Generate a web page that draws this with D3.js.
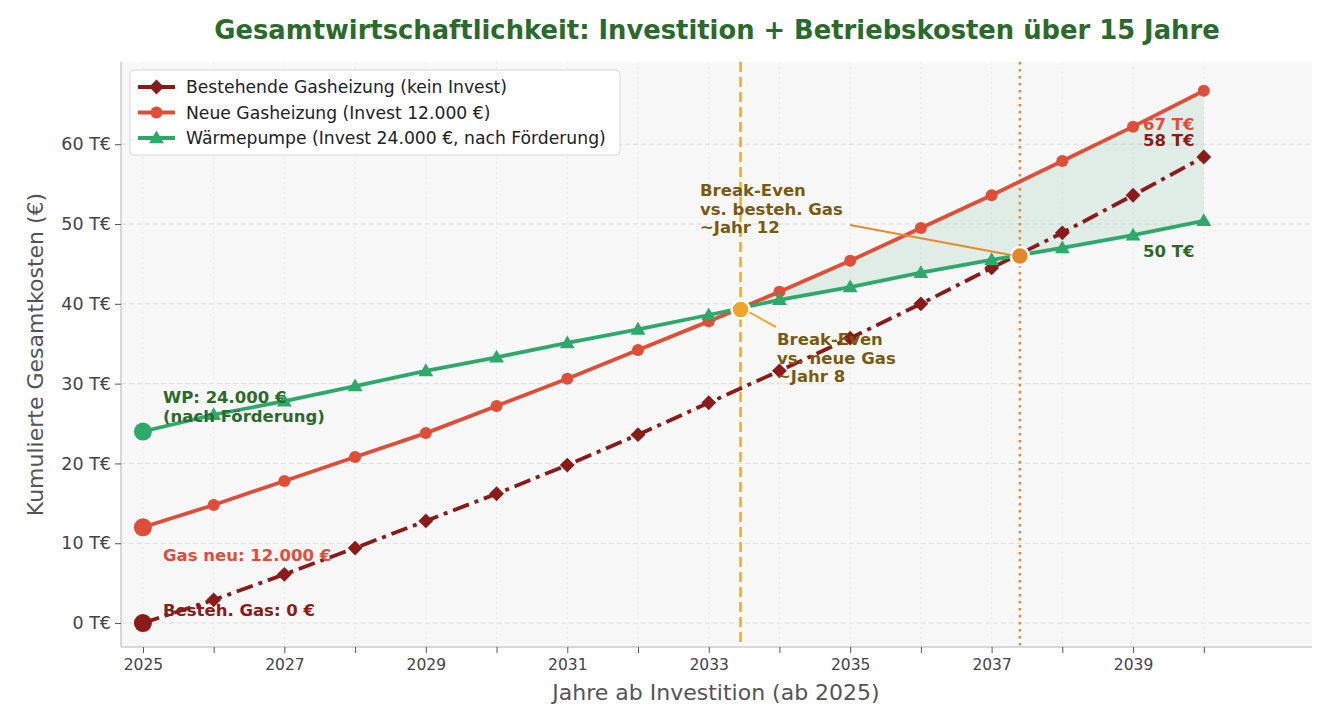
<!DOCTYPE html>
<html>
  <head>
    <meta charset="utf-8">
    <title>Gesamtwirtschaftlichkeit</title>
    <script src="https://d3js.org/d3.v7.min.js"></script>
    <style>
      body { margin: 0; background: #fff; font-family: "DejaVu Sans", sans-serif; }
    </style>
  </head>
  <body>
    <div id="graph"></div>
  </body>

  <script>
    // Data (values in T€)
    const years = [2025, 2026, 2027, 2028, 2029, 2030, 2031, 2032, 2033, 2034, 2035, 2036, 2037, 2038, 2039, 2040];
    const gas_old = [0, 2.9, 6.1, 9.4, 12.8, 16.2, 19.8, 23.6, 27.6, 31.6, 35.7, 40.0, 44.5, 48.9, 53.6, 58.4];
    const gas_new = [12, 14.8, 17.8, 20.8, 23.8, 27.2, 30.6, 34.2, 37.8, 41.5, 45.4, 49.5, 53.6, 57.9, 62.2, 66.7];
    const heat_pump = [24, 26.1, 27.8, 29.7, 31.6, 33.3, 35.1, 36.8, 38.6, 40.5, 42.1, 43.9, 45.5, 47.0, 48.6, 50.4];
    const break_even = [{year: 2033.45, value: 39.3}, {year: 2037.4, value: 46.0}];
    const y_ticks = [0, 10, 20, 30, 40, 50, 60];
    const x_labels = [2025, 2027, 2029, 2031, 2033, 2035, 2037, 2039];
    const series_names = [
      "Bestehende Gasheizung (kein Invest)",
      "Neue Gasheizung (Invest 12.000 €)",
      "Wärmepumpe (Invest 24.000 €, nach Förderung)"
    ];

    const width = 1326;
    const height = 712;
    const margin = ({top: 62, right: 14, bottom: 65, left: 121});

    const c_old = "#8b1a1a";
    const c_new = "#e04e39";
    const c_wp = "#2ea86b";
    const c_text_green = "#2b6a2b";
    const c_brown = "#7a5a10";
    const note_size = "16.5px";

    let svg = d3.select("#graph").append("svg")
      .attr("width", width)
      .attr("height", height)
      .style("font-family", "'DejaVu Sans', sans-serif");

    let x = d3.scaleLinear()
      .domain([2024.69, 2041.53])
      .range([margin.left, width - margin.right]);
    let y = d3.scaleLinear()
      .domain([-3.0, 70.3])
      .range([height - margin.bottom, margin.top]);

    // plot background
    svg.append("rect")
      .attr("x", margin.left).attr("y", margin.top)
      .attr("width", width - margin.left - margin.right)
      .attr("height", height - margin.top - margin.bottom)
      .attr("fill", "#f8f8f8");

    // grid
    svg.append("g").selectAll("line").data(y_ticks).enter().append("line")
      .attr("x1", margin.left).attr("x2", width - margin.right)
      .attr("y1", d => y(d)).attr("y2", d => y(d))
      .attr("stroke", "#dedede").attr("stroke-width", 1).attr("stroke-dasharray", "5,3");
    svg.append("g").selectAll("line").data(years).enter().append("line")
      .attr("x1", d => x(d)).attr("x2", d => x(d))
      .attr("y1", margin.top).attr("y2", height - margin.bottom)
      .attr("stroke", "#ececec").attr("stroke-width", 1).attr("stroke-dasharray", "2,3");

    // axes
    let x_axis = d3.axisBottom(x).tickValues(years)
      .tickSize(6).tickPadding(6)
      .tickFormat(d => x_labels.includes(d) ? d : "");
    let gx = svg.append("g")
      .attr("transform", `translate(0, ${height - margin.bottom})`)
      .call(x_axis);
    let y_axis = d3.axisLeft(y).tickValues(y_ticks)
      .tickSize(6).tickPadding(4)
      .tickFormat(d => d + " T€");
    let gy = svg.append("g")
      .attr("transform", `translate(${margin.left}, 0)`)
      .call(y_axis);
    [gx, gy].forEach(g => {
      g.select(".domain").attr("stroke", "#cccccc").attr("stroke-width", 1.5);
      g.selectAll(".tick line").attr("stroke", "#555");
      g.selectAll(".tick text").attr("fill", "#444")
        .style("font-family", "'DejaVu Sans', sans-serif");
    });
    gx.selectAll(".tick text").style("font-size", "15.5px");
    gy.selectAll(".tick text").style("font-size", "17.5px");
    gx.select(".domain").attr("d", `M${margin.left},0H${width - margin.right}`);
    gy.select(".domain").attr("d", `M0,${margin.top}V${height - margin.bottom}`);

    // axis titles
    svg.append("text")
      .attr("x", 716)
      .attr("y", 700)
      .attr("text-anchor", "middle")
      .attr("fill", "#555").style("font-size", "22px")
      .text("Jahre ab Investition (ab 2025)");
    svg.append("text")
      .attr("transform", `translate(43, ${(margin.top + height - margin.bottom) / 2}) rotate(-90)`)
      .attr("text-anchor", "middle")
      .attr("fill", "#555").style("font-size", "22px")
      .text("Kumulierte Gesamtkosten (€)");

    // title
    svg.append("text")
      .attr("x", 717).attr("y", 39)
      .attr("text-anchor", "middle")
      .attr("fill", c_text_green)
      .style("font-size", "25.8px").style("font-weight", "bold")
      .text("Gesamtwirtschaftlichkeit: Investition + Betriebskosten über 15 Jahre");

    // shaded area between new gas and heat pump where gas is more expensive
    let fill_pts = [];
    for (let i = 0; i < years.length; i++) {
      const d_now = gas_new[i] - heat_pump[i];
      if (i > 0) {
        const d_prev = gas_new[i - 1] - heat_pump[i - 1];
        if (d_prev <= 0 && d_now > 0) {
          const t = -d_prev / (d_now - d_prev);
          const yr = years[i - 1] + t;
          const v = heat_pump[i - 1] + t * (heat_pump[i] - heat_pump[i - 1]);
          fill_pts.push({year: yr, top: v, bottom: v});
        }
      }
      if (d_now > 0) fill_pts.push({year: years[i], top: gas_new[i], bottom: heat_pump[i]});
    }
    svg.append("path")
      .datum(fill_pts)
      .attr("fill", "#2ea86b").attr("fill-opacity", 0.12)
      .attr("d", d3.area().x(d => x(d.year)).y0(d => y(d.bottom)).y1(d => y(d.top)));

    // break-even vertical lines
    svg.append("line")
      .attr("x1", x(break_even[0].year)).attr("x2", x(break_even[0].year))
      .attr("y1", margin.top).attr("y2", height - margin.bottom)
      .attr("stroke", "#f0aa2c").attr("stroke-width", 2.5).attr("stroke-dasharray", "10,5");
    svg.append("line")
      .attr("x1", x(break_even[1].year)).attr("x2", x(break_even[1].year))
      .attr("y1", margin.top).attr("y2", height - margin.bottom)
      .attr("stroke", "#e08a34").attr("stroke-width", 2.5).attr("stroke-dasharray", "2.5,4.5");

    const line = d3.line().x((d, i) => x(years[i])).y(d => y(d));

    // existing gas heating
    svg.append("path").datum(gas_old)
      .attr("fill", "none").attr("stroke", c_old).attr("stroke-width", 3.8)
      .attr("stroke-dasharray", "17,6,4,6")
      .attr("d", line);
    svg.append("g").selectAll("path").data(gas_old.slice(1)).enter().append("path")
      .attr("transform", (d, i) => `translate(${x(years[i + 1])}, ${y(d)})`)
      .attr("d", d3.symbol(d3.symbolDiamond2, 140))
      .attr("fill", c_old);

    // new gas heating
    svg.append("path").datum(gas_new)
      .attr("fill", "none").attr("stroke", c_new).attr("stroke-width", 3.8)
      .attr("d", line);
    svg.append("g").selectAll("circle").data(gas_new.slice(1)).enter().append("circle")
      .attr("cx", (d, i) => x(years[i + 1])).attr("cy", d => y(d))
      .attr("r", 6).attr("fill", c_new);

    // heat pump
    svg.append("path").datum(heat_pump)
      .attr("fill", "none").attr("stroke", c_wp).attr("stroke-width", 3.8)
      .attr("d", line);
    svg.append("g").selectAll("path").data(heat_pump.slice(1)).enter().append("path")
      .attr("transform", (d, i) => `translate(${x(years[i + 1])}, ${y(d) + 1})`)
      .attr("d", d3.symbol(d3.symbolTriangle, 95))
      .attr("fill", c_wp);

    // start points
    [[gas_old[0], c_old], [gas_new[0], c_new], [heat_pump[0], c_wp]].forEach(p => {
      svg.append("circle")
        .attr("cx", x(years[0])).attr("cy", y(p[0]))
        .attr("r", 9).attr("fill", p[1]);
    });

    // break-even points
    svg.append("circle")
      .attr("cx", x(break_even[0].year)).attr("cy", y(break_even[0].value))
      .attr("r", 9).attr("fill", "#f0a52c").attr("stroke", "#fff").attr("stroke-width", 2.5);
    svg.append("circle")
      .attr("cx", x(break_even[1].year)).attr("cy", y(break_even[1].value))
      .attr("r", 9).attr("fill", "#e4872a").attr("stroke", "#fff").attr("stroke-width", 2.5);

    // annotation arrows
    svg.append("line")
      .attr("x1", 850).attr("y1", 225)
      .attr("x2", x(break_even[1].year) - 9).attr("y2", y(break_even[1].value) - 1)
      .attr("stroke", "#e8892a").attr("stroke-width", 2);
    svg.append("line")
      .attr("x1", 776).attr("y1", 327)
      .attr("x2", x(break_even[0].year) + 9).attr("y2", y(break_even[0].value) + 3)
      .attr("stroke", "#f0aa2c").attr("stroke-width", 2);

    function multiline(x0, y0, lines, color, dy) {
      let t = svg.append("text")
        .attr("x", x0).attr("y", y0)
        .attr("fill", color)
        .style("font-size", note_size).style("font-weight", "bold");
      lines.forEach((s, i) => {
        t.append("tspan").attr("x", x0).attr("dy", i === 0 ? 0 : dy).text(s);
      });
    }

    multiline(700, 196, ["Break-Even", "vs. besteh. Gas", "~Jahr 12"], c_brown, 18.5);
    multiline(777, 345, ["Break-Even", "vs. neue Gas", "~Jahr 8"], c_brown, 18.5);
    multiline(163, 403, ["WP: 24.000 €", "(nach Förderung)"], c_text_green, 18.5);
    multiline(163, 561, ["Gas neu: 12.000 €"], c_new, 0);
    multiline(163, 616, ["Besteh. Gas: 0 €"], c_old, 0);

    // end value labels
    multiline(1143, 130, [Math.round(gas_new[15]) + " T€"], c_new, 0);
    multiline(1143, 146, [Math.round(gas_old[15]) + " T€"], c_old, 0);
    multiline(1143, 257, [Math.round(heat_pump[15]) + " T€"], c_text_green, 0);

    // legend
    let legend = svg.append("g").attr("transform", "translate(130, 70)");
    legend.append("rect")
      .attr("width", 490).attr("height", 85).attr("rx", 4)
      .attr("fill", "#fff").attr("fill-opacity", 0.9)
      .attr("stroke", "#d8d8d8");
    const legend_colors = [c_old, c_new, c_wp];
    series_names.forEach((name, i) => {
      const ly = 17 + i * 25.5;
      let g = legend.append("g").attr("transform", `translate(0, ${ly})`);
      g.append("line")
        .attr("x1", 8).attr("x2", 45).attr("y1", 0).attr("y2", 0)
        .attr("stroke", legend_colors[i]).attr("stroke-width", 3.8);
      if (i === 0) {
        g.append("path").attr("transform", "translate(26.5, 0)")
          .attr("d", d3.symbol(d3.symbolDiamond2, 140)).attr("fill", c_old);
      } else if (i === 1) {
        g.append("circle").attr("cx", 26.5).attr("cy", 0).attr("r", 6).attr("fill", c_new);
      } else {
        g.append("path").attr("transform", "translate(26.5, 1)")
          .attr("d", d3.symbol(d3.symbolTriangle, 95)).attr("fill", c_wp);
      }
      g.append("text")
        .attr("x", 56).attr("y", 6)
        .attr("fill", "#222").style("font-size", "17.2px")
        .text(name);
    });
  </script>
</html>
